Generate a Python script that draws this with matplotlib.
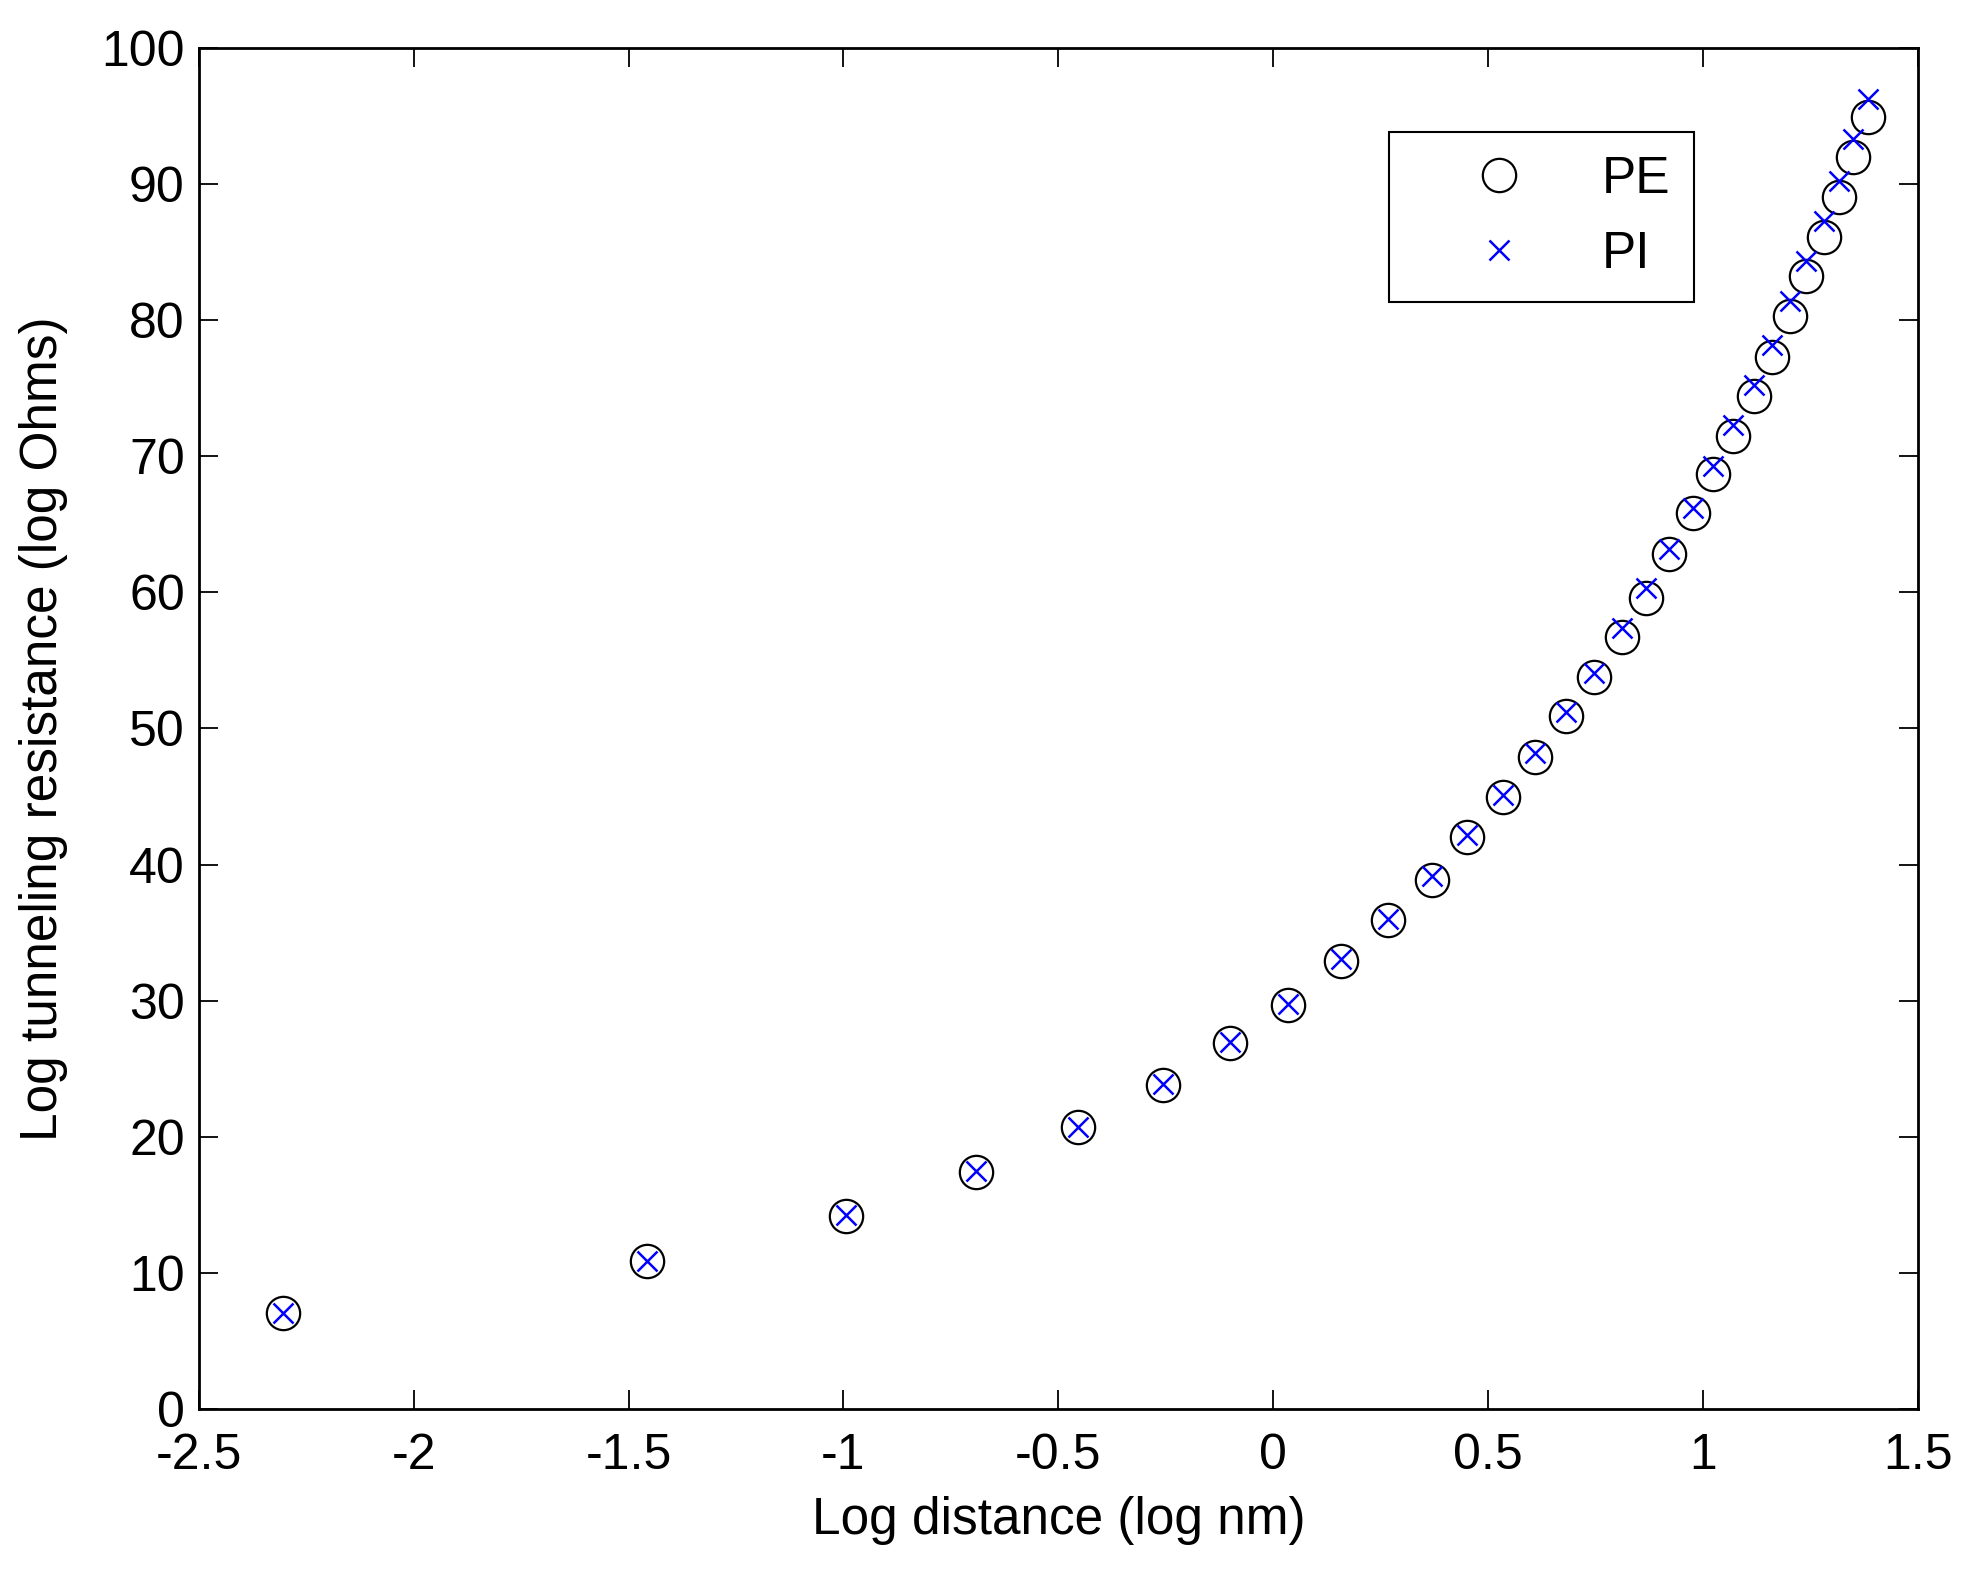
import matplotlib.pyplot as plt

plt.rcParams['font.family'] = ['Liberation Sans', 'DejaVu Sans']

# log distance (log nm)
log_dist = [-2.304, -1.457, -0.995, -0.691, -0.455, -0.256, -0.102, 0.035, 0.158, 0.267,
            0.369, 0.450, 0.535, 0.608, 0.681, 0.746, 0.810, 0.866, 0.921, 0.977,
            1.023, 1.070, 1.117, 1.161, 1.202, 1.240, 1.281, 1.316, 1.348, 1.383]

# log tunneling resistance (log Ohms)
pe_vals = [7.1, 10.9, 14.2, 17.45, 20.7, 23.8, 26.9, 29.7, 32.9, 35.9,
           38.9, 42.0, 45.0, 47.9, 50.9, 53.8, 56.7, 59.6, 62.8, 65.8,
           68.7, 71.5, 74.4, 77.3, 80.3, 83.2, 86.1, 89.0, 92.0, 94.9]
pi_vals = [7.1, 10.9, 14.25, 17.5, 20.75, 23.9, 27.0, 29.8, 33.1, 36.0,
           39.2, 42.2, 45.1, 48.2, 51.2, 54.1, 57.4, 60.3, 63.2, 66.2,
           69.3, 72.3, 75.2, 78.2, 81.4, 84.3, 87.3, 90.2, 93.3, 96.2]

fig = plt.figure(figsize=(19.71, 15.69), dpi=100)
ax = fig.add_axes([0.1008, 0.1018, 0.8724, 0.8678])

ax.plot(log_dist, pe_vals, 'o', mfc='none', mec='black', ms=24, mew=1.6, label='PE')
ax.plot(log_dist, pi_vals, 'x', color='blue', ms=15, mew=1.8, label='PI')

ax.set_xlim(-2.5, 1.5)
ax.set_ylim(0, 100)
ax.set_xticks([-2.5, -2, -1.5, -1, -0.5, 0, 0.5, 1, 1.5])
ax.set_xticklabels(['-2.5', '-2', '-1.5', '-1', '-0.5', '0', '0.5', '1', '1.5'])
ax.set_yticks(range(0, 101, 10))

ax.tick_params(direction='in', length=14, width=1.3, top=True, right=True,
               labelsize=36)
ax.tick_params(axis='x', pad=17)
ax.tick_params(axis='y', pad=10)
for s in ax.spines.values():
    s.set_linewidth(2)

ax.set_xlabel('Log distance (log nm)', fontsize=37, labelpad=12)
ax.set_ylabel('Log tunneling resistance (log Ohms)', fontsize=37, labelpad=24)

leg = ax.legend(loc='upper left', bbox_to_anchor=(0.692, 0.938), fontsize=37,
                frameon=True, fancybox=False, edgecolor='black', framealpha=1,
                handlelength=3.4, handletextpad=0.3, borderpad=0.45,
                labelspacing=0.5, borderaxespad=0)
leg.get_frame().set_linewidth(1.5)

plt.savefig('out.png', dpi=100)
